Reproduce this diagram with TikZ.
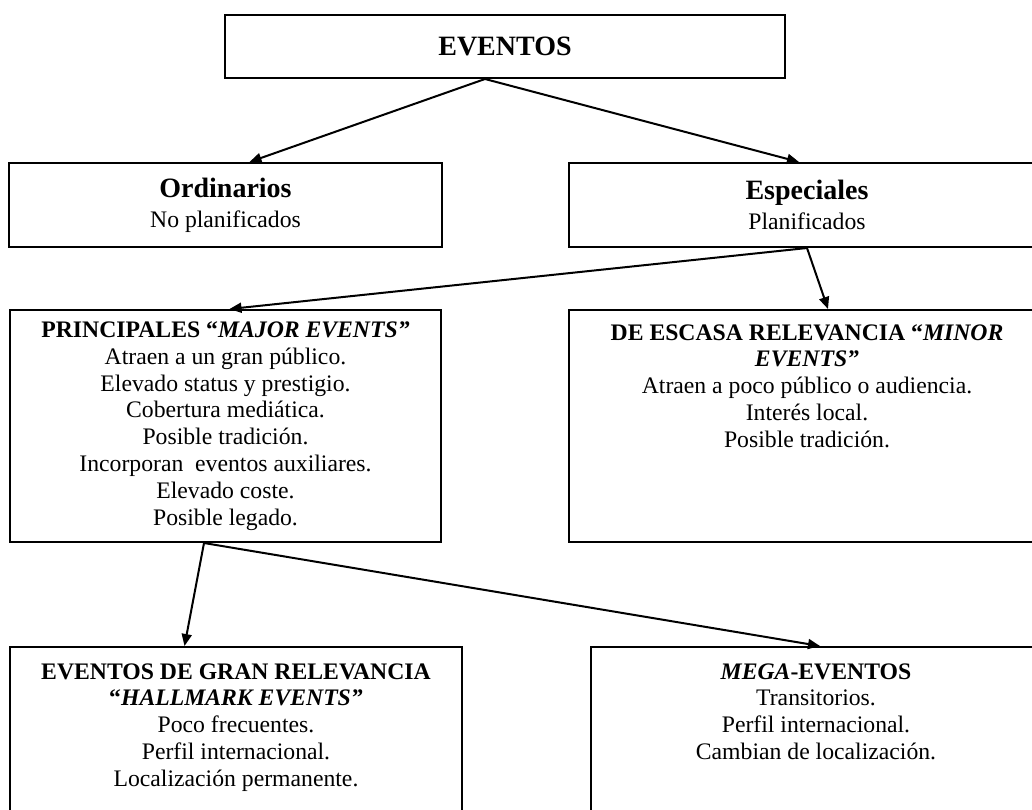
\documentclass[tikz,border=0pt]{standalone}
\usepackage{fontspec}
\setmainfont{Liberation Serif}
\usetikzlibrary{arrows.meta}

\begin{document}
\begin{tikzpicture}[x=0.5pt,y=-0.5pt]
    % Define styles
    \tikzstyle{box} = [rectangle, draw, line width=1pt, align=center, inner sep=0pt, font=\fontsize{11.85}{13.4}\selectfont]
    \tikzstyle{boxtext} = [anchor=north, align=center, inner sep=0pt, font=\fontsize{11.85}{13.4}\selectfont]
    \tikzstyle{arrow} = [line width=1pt,->,>={Triangle[length=6pt,width=5pt]}]
    \newcommand{\heading}[1]{{\fontsize{14}{16}\selectfont\bfseries #1}}

    \useasboundingbox (0,0) rectangle (1032,809);
    \clip (0,0) rectangle (1032,809);

    % Level 1
    \node (eventos) [box, minimum width=280pt, minimum height=31.5pt] at (505,46.5) {\heading{EVENTOS}};

    % Level 2
    \node (ordinarios) [box, minimum width=216.5pt, minimum height=42pt] at (225.5,205) {\heading{Ordinarios}\\[1.6pt] No planificados};
    \node (especiales) [box, minimum width=238pt, minimum height=42pt] at (807,205) {\heading{Especiales}\\[1.6pt] Planificados};

    % Level 3
    \node (principales) [box, minimum width=215.5pt, minimum height=116pt] at (225.5,426) {\textbf{PRINCIPALES “\textit{MAJOR EVENTS”}}\\ Atraen a un gran público.\\ Elevado status y prestigio.\\ Cobertura mediática.\\ Posible tradición.\\ Incorporan~ eventos auxiliares.\\ Elevado coste.\\ Posible legado.};
    \node (escasa) [box, minimum width=238pt, minimum height=116pt] at (807,426) {};
    \node (escasatext) [boxtext] at ([yshift=-7.5pt]escasa.north) {\textbf{DE ESCASA RELEVANCIA “\textit{MINOR}}\\ \textbf{\textit{EVENTS”}}\\ Atraen a poco público o audiencia.\\ Interés local.\\ Posible tradición.};

    % Level 4
    \node (gran) [box, minimum width=226pt, minimum height=116.5pt] at (236,763.5) {};
    \node (grantext) [boxtext] at ([yshift=-8.5pt]gran.north) {\textbf{EVENTOS DE GRAN RELEVANCIA}\\ \textbf{“\textit{HALLMARK EVENTS”}}\\ Poco frecuentes.\\ Perfil internacional.\\ Localización permanente.};
    \node (mega) [box, minimum width=225pt, minimum height=116.5pt] at (816,763.5) {};
    \node (megatext) [boxtext] at ([yshift=-8.5pt]mega.north) {\textbf{\textit{MEGA}-EVENTOS}\\ Transitorios.\\ Perfil internacional.\\ Cambian de localización.};

    % Arrows
    \draw [arrow] ([xshift=-10pt]eventos.south) -- ([xshift=12pt]ordinarios.north);
    \draw [arrow] ([xshift=-10pt]eventos.south) -- ([xshift=-4pt]especiales.north);
    \draw [arrow] (especiales.south) -- ([xshift=2pt]principales.north);
    \draw [arrow] (especiales.south) -- ([xshift=10.5pt]escasa.north);
    \draw [arrow] ([xshift=-10.75pt]principales.south) -- ([xshift=-25.75pt]gran.north);
    \draw [arrow] ([xshift=-10.75pt]principales.south) -- ([xshift=2pt]mega.north);
\end{tikzpicture}
\end{document}
